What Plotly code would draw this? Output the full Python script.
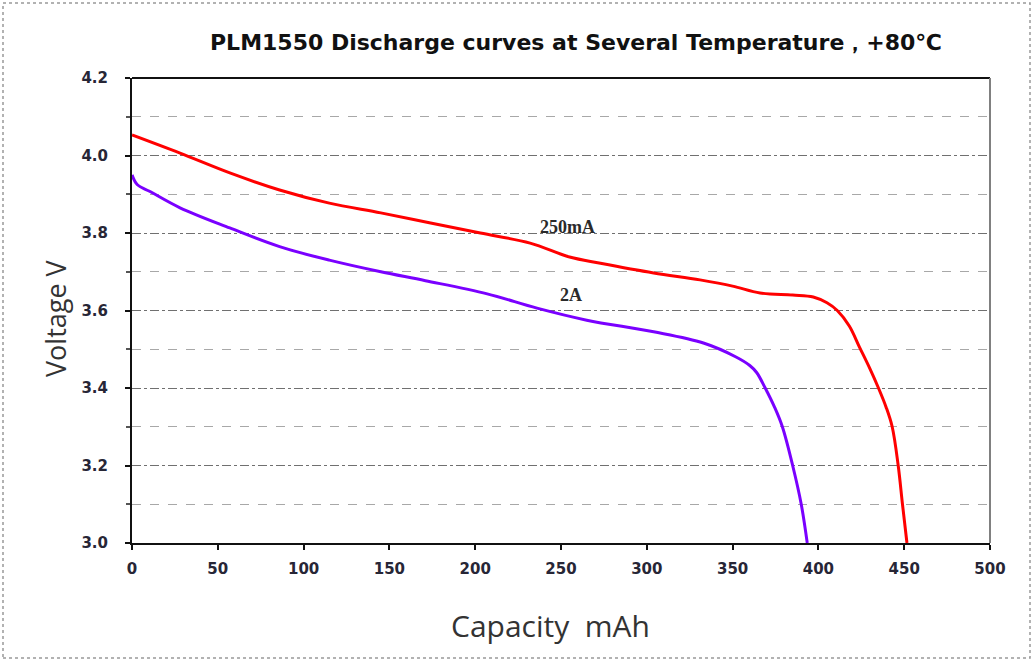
import plotly.graph_objects as go

# 250 mA discharge curve (capacity mAh, voltage V)
cap_250mA = [0, 28, 57, 86, 115, 145, 174, 203, 232, 255, 273, 304, 331, 350, 366, 385, 397, 405, 411, 418, 424, 430, 435, 439.5, 443, 446.5, 449, 451.6]
volt_250mA = [4.053, 4.006, 3.955, 3.911, 3.877, 3.852, 3.826, 3.80, 3.774, 3.738, 3.722, 3.697, 3.679, 3.663, 3.645, 3.640, 3.635, 3.62, 3.60, 3.56, 3.505, 3.45, 3.40, 3.35, 3.30, 3.20, 3.10, 3.0]

# 2 A discharge curve
cap_2A = [0, 3, 10.5, 28, 57, 86, 115, 145, 171, 207, 236, 265, 304, 333, 352, 360, 364, 369, 374.5, 379, 385, 390, 393.5]
volt_2A = [3.95, 3.925, 3.907, 3.865, 3.813, 3.765, 3.730, 3.700, 3.677, 3.643, 3.606, 3.575, 3.545, 3.516, 3.48, 3.458, 3.44, 3.40, 3.35, 3.30, 3.20, 3.10, 3.0]

x_ticks = [0, 50, 100, 150, 200, 250, 300, 350, 400, 450, 500]
y_ticks = [3.0, 3.2, 3.4, 3.6, 3.8, 4.0, 4.2]

title_text = "PLM1550 Discharge curves at Several Temperature，+80℃"
x_title = "Capacity  mAh"
y_title = "Voltage V"
label_250 = "250mA"
label_2A = "2A"

# plot area in pixels: x 132..990, y 78..543
L, T, W, H = 132, 78, 858, 465

def px(xp):
    return (xp - L) / W

def py(yp):
    return (T + H - yp) / H

fig = go.Figure()
fig.add_trace(go.Scatter(x=cap_250mA, y=volt_250mA, mode="lines",
                         line=dict(color="#ff0000", width=3, shape="spline", smoothing=1.0), name=label_250))
fig.add_trace(go.Scatter(x=cap_2A, y=volt_2A, mode="lines",
                         line=dict(color="#7a00ff", width=3, shape="spline", smoothing=1.0), name=label_2A))

fig.add_annotation(x=254, y=3.815, text="<b>" + label_250 + "</b>", showarrow=False,
                   font=dict(family="Liberation Serif", size=18, color="#2a2a2a"))
fig.add_annotation(x=256, y=3.64, text="<b>" + label_2A + "</b>", showarrow=False,
                   font=dict(family="Liberation Serif", size=18, color="#2a2a2a"))

# axis titles
fig.add_annotation(xref="paper", yref="paper", x=px(550), y=py(625), text=x_title, showarrow=False,
                   xanchor="center", yanchor="middle",
                   font=dict(family="Open Sans", size=30, color="#333"))
fig.add_annotation(xref="paper", yref="paper", x=px(55), y=py(318), text=y_title, showarrow=False,
                   textangle=-90, xanchor="center", yanchor="middle",
                   font=dict(family="Open Sans", size=27, color="#333"))

tickfont = dict(family="DejaVu Sans", size=15, color="#272636", weight="bold")

fig.update_xaxes(range=[0, 500], tickvals=x_ticks, ticktext=[str(v) for v in x_ticks],
                 showline=True, linecolor="#111", linewidth=2, ticks="outside", ticklen=5,
                 tickcolor="#111", tickwidth=2, showgrid=False, zeroline=False,
                 tickfont=tickfont, ticklabelstandoff=6, automargin=False)
fig.update_yaxes(range=[3.0, 4.2], tickvals=y_ticks, ticktext=["%.1f" % v for v in y_ticks],
                 showline=True, linecolor="#111", linewidth=2, ticks="outside", ticklen=5,
                 tickcolor="#111", tickwidth=2, zeroline=False,
                 showgrid=True, gridcolor="#707070", gridwidth=1, griddash="dashdot",
                 minor=dict(dtick=0.1, showgrid=True, gridcolor="#a8a8a8", griddash="dash",
                            ticks="outside", ticklen=4, tickcolor="#555"),
                 tickfont=tickfont, ticklabelstandoff=14, automargin=False)

# frame top and right
fig.add_shape(type="line", xref="paper", yref="paper", x0=0, x1=1, y0=1, y1=1, line=dict(color="#111", width=2))
fig.add_shape(type="line", xref="paper", yref="paper", x0=1, x1=1, y0=0, y1=1, line=dict(color="#808080", width=2))
# outer dotted border
fig.add_shape(type="rect", xref="paper", yref="paper",
              x0=px(3), x1=px(1030), y0=py(658), y1=py(3),
              line=dict(color="#999", width=1.5, dash="dot"), layer="below")

fig.update_layout(
    width=1033, height=661,
    margin=dict(l=L, r=1033 - L - W, t=T, b=661 - T - H),
    paper_bgcolor="white", plot_bgcolor="white",
    showlegend=False,
    title=dict(text="<b>" + title_text + "</b>", x=px(576), xanchor="center", xref="paper",
               y=1 - 42 / 661, yanchor="middle",
               font=dict(family="DejaVu Sans", size=22, color="#111")),
)

fig.write_html("out.html", config={"displayModeBar": False},
               post_script="document.body.style.margin='0';document.body.style.overflow='hidden';")
